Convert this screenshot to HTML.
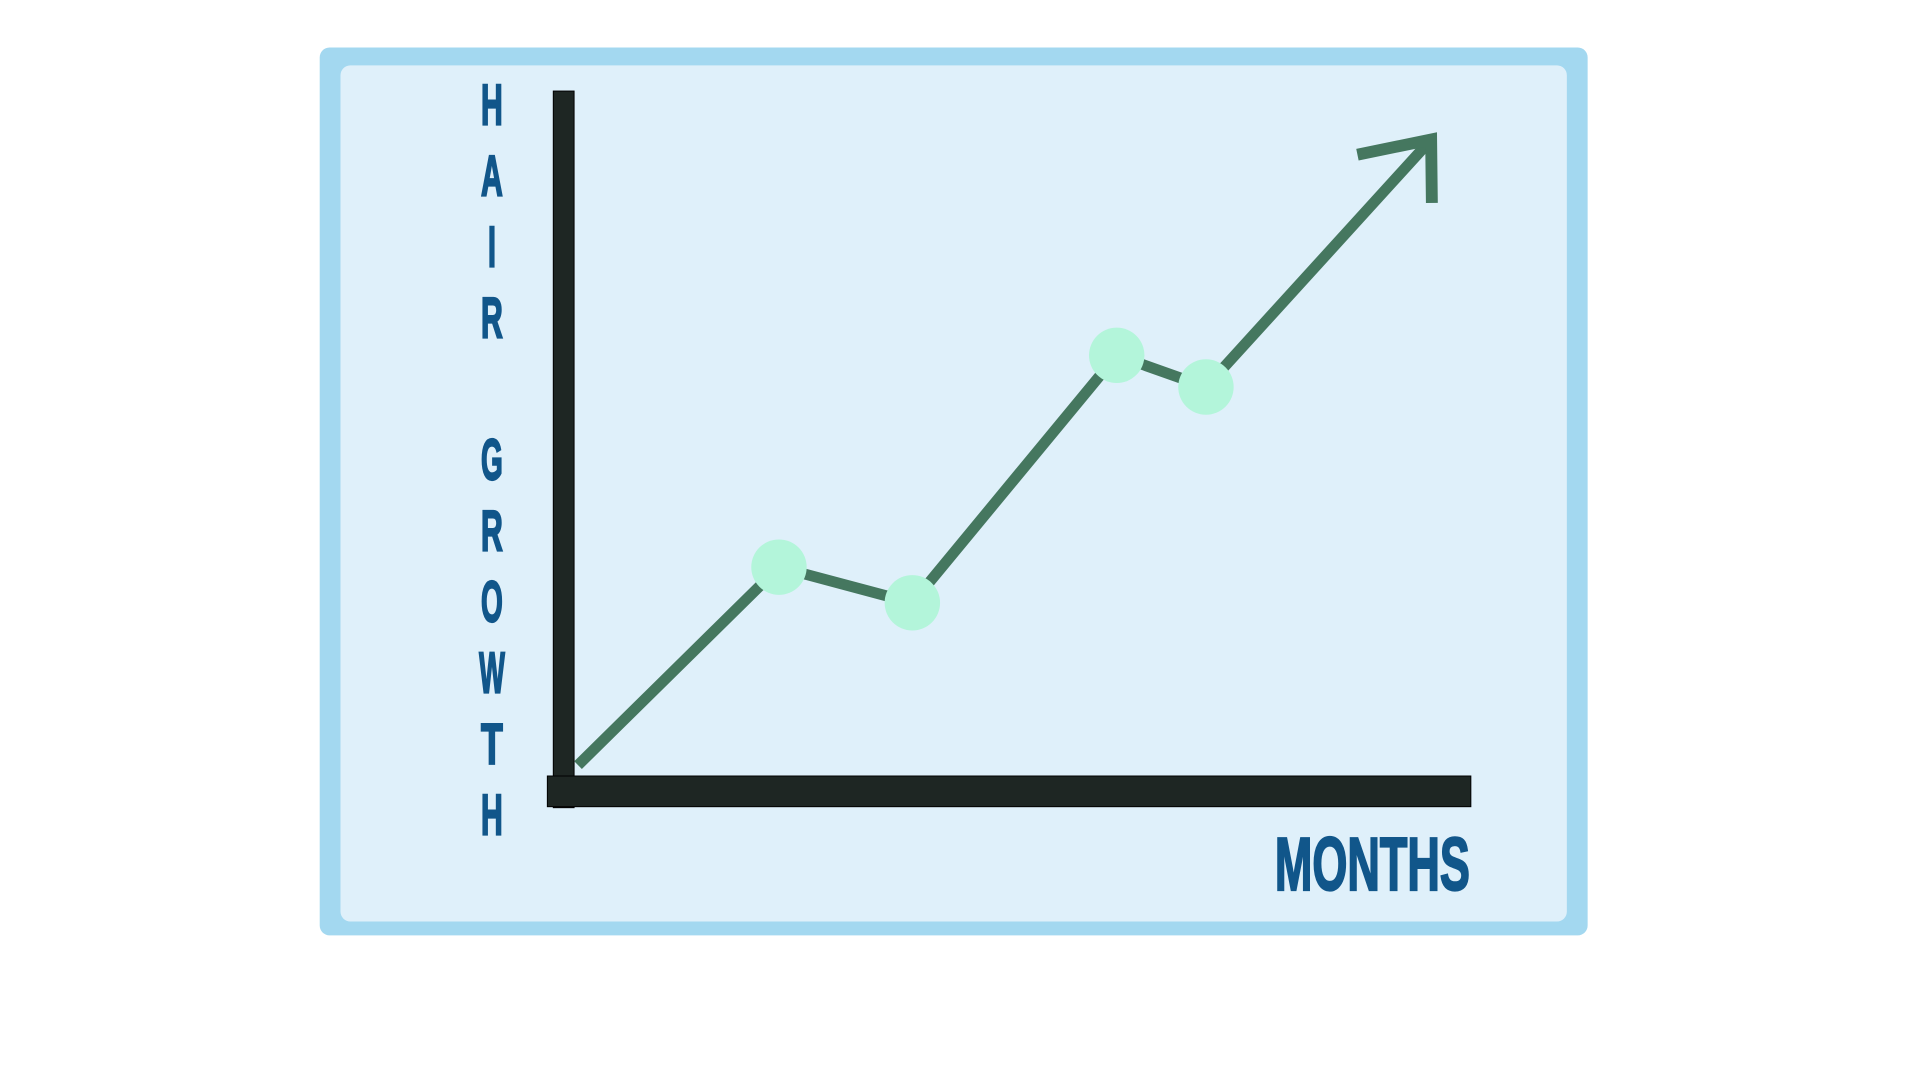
<!DOCTYPE html>
<html><head><meta charset="utf-8"><style>
html,body{margin:0;padding:0;background:#fff;width:1920px;height:1080px;overflow:hidden}
svg{display:block}
text{font-family:"Liberation Sans Narrow","Liberation Sans",sans-serif;font-weight:bold;fill:#11568a;stroke:#11568a;stroke-width:2.2}
</style></head><body>
<svg width="1920" height="1080" viewBox="0 0 1920 1080">
<g transform="scale(0.9898)">
<rect x="323" y="48" width="1281" height="897" rx="10" fill="#a3d8f0"/>
<rect x="344" y="66" width="1239" height="865" rx="10" fill="#dff0fa"/>
<g id="ylabel"></g>
<rect x="559" y="92" width="21" height="724" fill="#1e2623" stroke="#000" stroke-width="1"/>
<rect x="553" y="784" width="933" height="31" fill="#1e2623" stroke="#000" stroke-width="1"/>
<g id="series"></g>
<text x="1288" y="899" font-size="76" textLength="197" lengthAdjust="spacingAndGlyphs">MONTHS</text>
</g>
</svg>
<script>
const months = [0, 2.32, 3.86, 6.22, 7.25, 9.85];
const growth = [0, 20, 16.4, 41.4, 38.2, 63.2];
const markerIdx = [1, 2, 3, 4];
const yLetters = ["H","A","I","R","","G","R","O","W","T","H"];

const NS = "http://www.w3.org/2000/svg";
function xs(m){ return 584 + m * 87.5; }
function ys(v){ return 773 - v * 10; }

const yl = document.getElementById('ylabel');
yLetters.forEach((ch, i) => {
  if (!ch) return;
  const t = document.createElementNS(NS, 'text');
  
  
  t.setAttribute('x', 497);
  t.setAttribute('y', 126 + i * 71.7);
  t.setAttribute('font-size', 58);
  t.setAttribute('text-anchor', 'middle');
  const w = ch === 'I' ? 8 : (ch === 'W' ? 26 : 22);
  t.setAttribute('textLength', w);
  t.setAttribute('lengthAdjust', 'spacingAndGlyphs');
  t.textContent = ch;
  yl.appendChild(t);
});

const g = document.getElementById('series');
const pts = months.map((m, i) => [xs(m), ys(growth[i])]);
const pl = document.createElementNS(NS, 'polyline');


pl.setAttribute('points', pts.map(p => p.join(',')).join(' '));
pl.setAttribute('fill', 'none');
pl.setAttribute('stroke', '#45775f');
pl.setAttribute('stroke-width', 11);
g.appendChild(pl);

const tip = pts[pts.length - 1], prev = pts[pts.length - 2];
const ang = Math.atan2(tip[1] - prev[1], tip[0] - prev[0]);
const a1 = ang + Math.PI - 0.75, a2 = ang + Math.PI + 0.63;
const head = document.createElementNS(NS, 'polyline');


head.setAttribute('points', [
  [tip[0] + 64 * Math.cos(a1), tip[1] + 64 * Math.sin(a1)],
  tip,
  [tip[0] + 76 * Math.cos(a2), tip[1] + 76 * Math.sin(a2)]
].map(p => p.join(',')).join(' '));
head.setAttribute('fill', 'none');
head.setAttribute('stroke', '#45775f');
head.setAttribute('stroke-width', 12);
g.appendChild(head);

markerIdx.forEach(i => {
  const c = document.createElementNS(NS, 'circle');
  
  
  c.setAttribute('cx', xs(months[i]));
  c.setAttribute('cy', ys(growth[i]));
  c.setAttribute('r', 28);
  c.setAttribute('fill', '#b3f5da');
  g.appendChild(c);
});
</script>
</body></html>
